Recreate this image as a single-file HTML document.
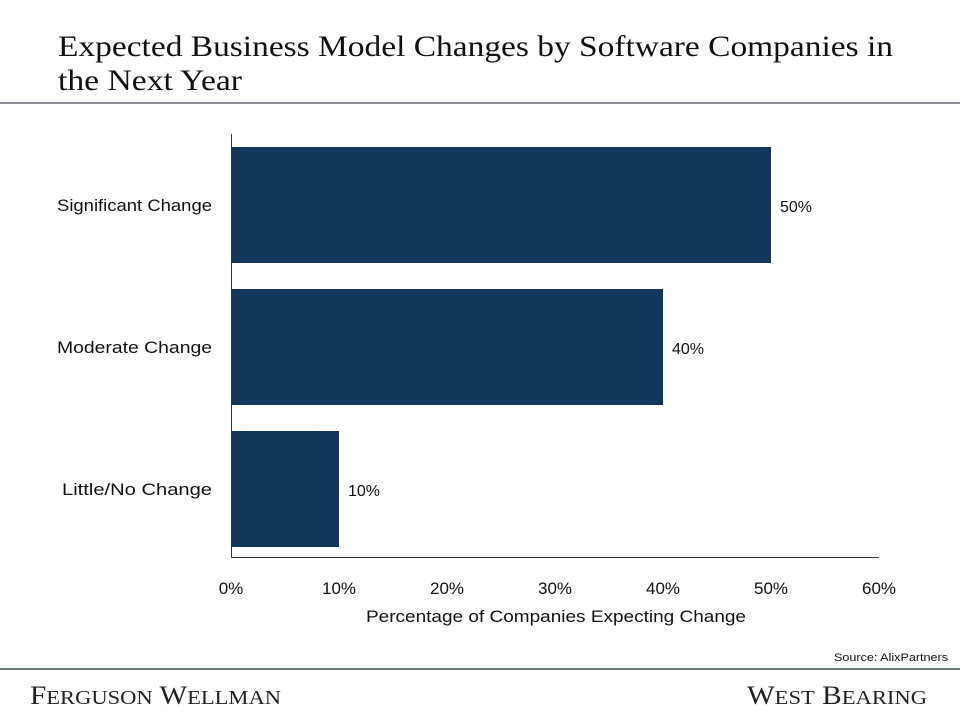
<!DOCTYPE html>
<html><head><meta charset="utf-8"><style>
body{margin:0;width:960px;height:720px;background:#fff;overflow:hidden;font-family:"Liberation Sans",sans-serif}
svg{display:block}
</style></head><body>
<svg id="chart" width="960" height="720">
<text x="58" y="56" font-family="Liberation Serif,serif" font-size="30" fill="#111" textLength="835" lengthAdjust="spacingAndGlyphs">Expected Business Model Changes by Software Companies in</text>
<text x="58" y="90" font-family="Liberation Serif,serif" font-size="30" fill="#111" textLength="184" lengthAdjust="spacingAndGlyphs">the Next Year</text>
<rect x="0" y="102" width="960" height="2" fill="#8a9095"/>
<g id="plot"></g>
<text x="948" y="661" text-anchor="end" font-size="11" fill="#111" textLength="114" lengthAdjust="spacingAndGlyphs">Source: AlixPartners</text>
<rect x="0" y="668" width="960" height="2" fill="#6b7b78"/>
<text x="30" y="704" font-family="Liberation Serif,serif" font-size="26" fill="#222" textLength="251" lengthAdjust="spacingAndGlyphs">F<tspan font-size="20">ERGUSON</tspan> W<tspan font-size="20">ELLMAN</tspan></text>
<text x="747" y="704" font-family="Liberation Serif,serif" font-size="26" fill="#222" textLength="180" lengthAdjust="spacingAndGlyphs">W<tspan font-size="20">EST</tspan> B<tspan font-size="20">EARING</tspan></text>
</svg>
<script>
const categories = ["Significant Change", "Moderate Change", "Little/No Change"];
const values = [50, 40, 10];
const valueLabels = ["50%", "40%", "10%"];
const xTicks = [0, 10, 20, 30, 40, 50, 60];
const xTickLabels = ["0%", "10%", "20%", "30%", "40%", "50%", "60%"];

const NS = "http://www.w3.org/2000/svg";
const g = document.getElementById("plot");
const x0 = 231, x1 = 879, yTop = 134, yBot = 557;
const xScale = v => x0 + (v - 0) / 60 * (x1 - x0);
const band = 142;
const yScale = i => 137 + i * band;
const barH = 116;
const labelW = [155, 155, 150];
function mk(tag, attrs) { const e = document.createElementNS(NS, tag); for (const k in attrs) e.setAttribute(k, attrs[k]); g.appendChild(e); return e; }

categories.forEach((c, i) => {
  const yb = yScale(i) + (band - barH) / 2 - 3;
  const r = mk("rect", {x: x0, y: yb, width: xScale(values[i]) - x0, height: barH, fill: "#12375b"});
  
  
  const t = mk("text", {x: 212, y: yb + barH / 2 + 6, "text-anchor": "end", "font-size": "17", fill: "#111", textLength: labelW[i], lengthAdjust: "spacingAndGlyphs"});
  t.textContent = c;
  
  
  const v = mk("text", {x: xScale(values[i]) + 9, y: yb + barH / 2 + 7, "font-size": "16", fill: "#111"});
  v.textContent = valueLabels[i];
  
  
});
const ya = mk("line", {x1: x0 + 0.5, x2: x0 + 0.5, y1: yTop, y2: yBot, stroke: "#333", "stroke-width": 1});


const xa = mk("line", {x1: x0, x2: x1, y1: yBot + 0.5, y2: yBot + 0.5, stroke: "#333", "stroke-width": 1});


xTicks.forEach((tv, i) => {
  const t = mk("text", {x: xScale(tv), y: 594, "text-anchor": "middle", "font-size": "17", fill: "#111"});
  t.textContent = xTickLabels[i];
  
  
});
const at = mk("text", {x: 366, y: 622, "font-size": "17", fill: "#111", textLength: "380", lengthAdjust: "spacingAndGlyphs"});
at.textContent = "Percentage of Companies Expecting Change";


</script>
</body></html>
